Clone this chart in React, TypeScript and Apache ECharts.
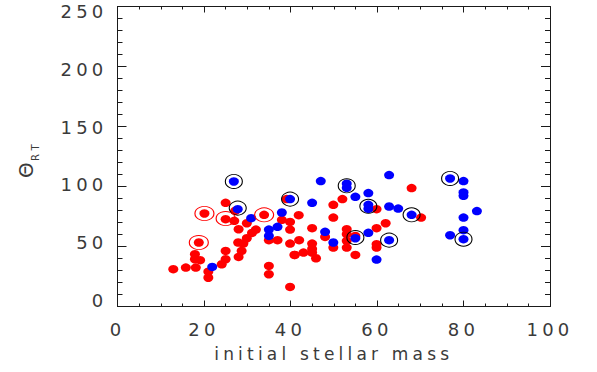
import React, { useEffect, useRef } from "react";
import * as echarts from "echarts";

// [initial stellar mass, Theta_RT]
const redPoints: [number, number][] = [
  [39.1, 89.5], [25.0, 86.4], [25.0, 72.8], [27.0, 71.4], [20.1, 77.5], [18.8, 53.3],
  [33.9, 76.4], [29.9, 69.4], [28.0, 64.4], [32.0, 64.1], [31.1, 61.3], [29.9, 56.9],
  [29.1, 52.4], [27.9, 53.3], [35.0, 55.3], [37.0, 55.3], [38.0, 72.2], [39.9, 70.5],
  [39.9, 64.1], [39.9, 52.4], [40.9, 43.0], [41.9, 76.1], [39.9, 16.3], [35.0, 33.8],
  [35.0, 26.9], [28.0, 41.3], [25.0, 46.3], [25.0, 39.4], [24.1, 35.2], [17.9, 43.6],
  [17.9, 39.4], [19.1, 38.6], [12.9, 31.1], [15.8, 32.4], [18.1, 32.4], [21.0, 29.0],
  [21.0, 24.0], [27.2, 79.7], [28.7, 46.3],
  [68.0, 98.7], [59.9, 81.1], [70.2, 74.1], [49.9, 84.7], [52.0, 89.5], [49.9, 74.1],
  [45.0, 65.3], [48.0, 58.0], [53.0, 64.4], [53.0, 60.3], [53.0, 54.7], [53.0, 49.1],
  [55.0, 58.8], [55.0, 43.0], [59.9, 65.3], [62.0, 69.4], [59.9, 51.9], [59.9, 49.1],
  [49.9, 49.1], [45.0, 52.4], [45.0, 48.0], [45.0, 44.9], [42.0, 55.3], [41.0, 43.0],
  [43.0, 44.9], [45.9, 40.2],
];

const bluePoints: [number, number][] = [
  [26.9, 104.2], [39.9, 89.5], [27.8, 81.1], [30.9, 73.6], [35.0, 64.1], [35.0, 58.8],
  [37.0, 66.4], [38.0, 78.3], [21.9, 33.0], [53.0, 102.3], [53.0, 98.9], [47.0, 104.5],
  [62.8, 109.5], [76.9, 106.7], [80.0, 104.5], [80.0, 95.0], [80.0, 92.2], [58.0, 94.5],
  [55.0, 91.4], [58.0, 84.7], [58.0, 81.4], [62.8, 83.3], [64.9, 81.6], [68.0, 76.4],
  [83.1, 79.5], [80.0, 74.1], [80.0, 63.6], [76.9, 59.4], [80.0, 56.1], [45.0, 86.4],
  [48.0, 62.2], [55.0, 56.9], [58.0, 61.4], [62.8, 55.3], [59.9, 39.1], [49.9, 53.3],
];

const blackCircled: [number, number][] = [
  [26.9, 104.2], [39.9, 89.5], [27.8, 82.0], [53.0, 100.6], [58.0, 83.5],
  [68.0, 76.4], [76.9, 106.7], [80.0, 56.1], [62.8, 55.3], [55.0, 57.5],
];

const redCircled: [number, number][] = [
  [20.1, 77.5], [25.0, 73.3], [18.8, 53.3], [33.9, 76.4],
];

const xMin = 0, xMax = 100, xStep = 20;
const yMin = 0, yMax = 250, yStep = 50;
const xTitle = "initial stellar mass";

const FONT = '"DejaVu Sans", sans-serif';
const TXT = "#3a3a3a";
const AX = "#1a1a1a";

export default function App() {
  const ref = useRef<HTMLDivElement>(null);
  useEffect(() => {
    const chart = echarts.init(ref.current!, null, { renderer: "svg" });
    const gridPos = { left: 117.5, right: 47, top: 6.5, bottom: 65.5 };
    const baseX = {
      type: "value" as const,
      min: xMin, max: xMax, interval: xStep,
      splitLine: { show: false },
      axisLine: { show: true, onZero: false, lineStyle: { color: AX, width: 1 } },
      axisTick: { show: true, inside: true, length: 6, lineStyle: { color: AX } },
      minorTick: { show: true, splitNumber: 4, length: 3, lineStyle: { color: AX } },
      minorSplitLine: { show: false },
    };
    const baseY = {
      type: "value" as const,
      min: yMin, max: yMax, interval: yStep,
      splitLine: { show: false },
      axisLine: { show: true, onZero: false, lineStyle: { color: AX, width: 1 } },
      axisTick: { show: true, inside: true, length: 9, lineStyle: { color: AX } },
      minorTick: { show: true, splitNumber: 5, length: 5, lineStyle: { color: AX } },
      minorSplitLine: { show: false },
    };
    chart.setOption({
      animation: false,
      backgroundColor: "#fff",
      grid: [
        { ...gridPos },
        { left: 117.5, right: 47, top: 11.5, bottom: 71.5 },
      ],
      xAxis: [
        {
          ...baseX, gridIndex: 0, position: "bottom",
          axisLabel: { show: true, margin: 14, fontFamily: FONT, fontSize: 18, color: TXT },
          name: xTitle, nameLocation: "middle", nameGap: 39,
          nameTextStyle: { fontFamily: FONT, fontSize: 17, color: TXT },
        },
        { ...baseX, gridIndex: 0, position: "top", axisLabel: { show: false } },
        { type: "value", gridIndex: 1, min: xMin, max: xMax, show: false },
      ],
      yAxis: [
        { ...baseY, gridIndex: 0, position: "left", axisLabel: { show: false } },
        { ...baseY, gridIndex: 0, position: "right", axisLabel: { show: false } },
        {
          type: "value", gridIndex: 1, min: yMin, max: yMax, interval: yStep,
          position: "left",
          axisLine: { show: false, onZero: false }, axisTick: { show: false }, splitLine: { show: false },
          axisLabel: { show: true, margin: 10, fontFamily: FONT, fontSize: 18, color: TXT },
        },
      ],
      graphic: [
        {
          type: "group", x: 26, y: 178, rotation: Math.PI / 2,
          children: [
            { type: "text", x: 0, y: 0, style: { text: "Θ", fontFamily: FONT, fontSize: 20, fill: TXT, align: "left", verticalAlign: "middle" } },
            { type: "text", x: 17, y: 9, style: { text: "RT", fontFamily: FONT, fontSize: 10, fill: TXT, align: "left", verticalAlign: "middle" } },
          ],
        },
      ],
      series: [
        {
          type: "scatter", xAxisIndex: 0, yAxisIndex: 0, data: redPoints,
          symbol: "circle", symbolSize: [10, 8.5],
          itemStyle: { color: "#ff0000", opacity: 1 },
        },
        {
          type: "scatter", xAxisIndex: 0, yAxisIndex: 0, data: bluePoints,
          symbol: "circle", symbolSize: [10, 8.5],
          itemStyle: { color: "#0000ff", opacity: 1 },
        },
        {
          type: "scatter", xAxisIndex: 0, yAxisIndex: 0, data: blackCircled,
          symbol: "circle", symbolSize: [17, 14],
          itemStyle: { color: "rgba(0,0,0,0)", borderColor: "#000", borderWidth: 1, opacity: 1 },
        },
        {
          type: "scatter", xAxisIndex: 0, yAxisIndex: 0, data: redCircled,
          symbol: "circle", symbolSize: [19, 14],
          itemStyle: { color: "rgba(0,0,0,0)", borderColor: "#ff0000", borderWidth: 1, opacity: 1 },
        },
      ],
    });
    return () => chart.dispose();
  }, []);
  return (
    <div>
      <style>{`.chart text { letter-spacing: 4.2px; }`}</style>
      <div
        ref={ref}
        className="chart"
        style={{ position: "fixed", left: 0, top: 0, width: 597, height: 372, background: "#fff" }}
      />
    </div>
  );
}
